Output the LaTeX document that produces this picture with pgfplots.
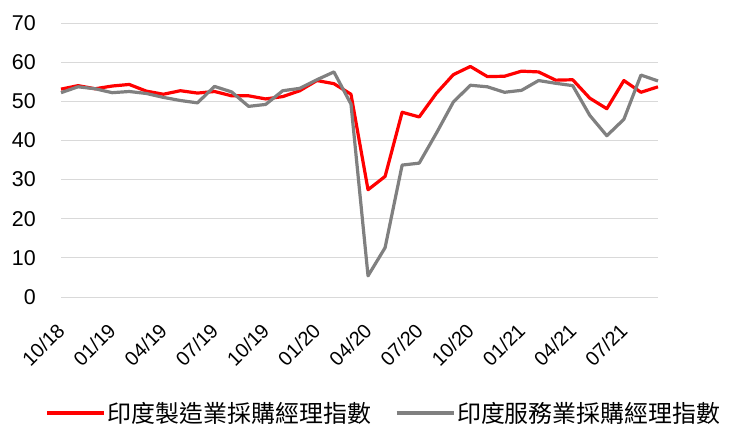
\documentclass[border=0pt]{standalone}
\usepackage{fontspec}
\setmainfont{Liberation Sans}
\newfontfamily\cjk{Noto Sans CJK TC}
\usepackage{pgfplots}
\pgfplotsset{compat=1.18}
\usepackage{pgfplotstable}
\definecolor{pmired}{RGB}{255,0,0}
\definecolor{pmigray}{RGB}{128,128,128}
\definecolor{gridgray}{RGB}{217,217,217}

\pgfplotstableread{
idx mfg svc
0 53.1 52.2
1 54.0 53.7
2 53.2 53.2
3 53.9 52.2
4 54.3 52.5
5 52.6 52.0
6 51.8 51.0
7 52.7 50.2
8 52.1 49.6
9 52.5 53.8
10 51.4 52.4
11 51.4 48.7
12 50.6 49.2
13 51.2 52.7
14 52.7 53.3
15 55.3 55.5
16 54.5 57.5
17 51.8 49.3
18 27.4 5.4
19 30.8 12.6
20 47.2 33.7
21 46.0 34.2
22 52.0 41.8
23 56.8 49.8
24 58.9 54.1
25 56.3 53.7
26 56.4 52.3
27 57.7 52.8
28 57.5 55.3
29 55.4 54.6
30 55.5 54.0
31 50.8 46.4
32 48.1 41.2
33 55.3 45.4
34 52.3 56.7
35 53.7 55.2
}\pmidata

\begin{document}
\begin{tikzpicture}
\path[use as bounding box] (0,0) rectangle (736bp,440bp);
\begin{axis}[
  at={(61bp,143bp)}, anchor=south west,
  scale only axis, width=597bp, height=274bp,
  xmin=0, xmax=35, ymin=0, ymax=70,
  ytick={0,10,...,70},
  xtick={0,3,...,33},
  xticklabels={10/18,01/19,04/19,07/19,10/19,01/20,04/20,07/20,10/20,01/21,04/21,07/21},
  axis line style={draw=none},
  major tick length=0pt,
  ymajorgrids,
  grid style={color=gridgray, line width=1bp},
  /pgf/number format/assume math mode=true,
  yticklabel style={font=\fontsize{21.5}{24}\selectfont, anchor=east, inner sep=0pt, xshift=-25bp},
  xticklabel style={font=\fontsize{20}{24}\selectfont, yshift=-30bp, rotate=45, anchor=east, inner sep=0pt},
  clip=false,
  legend columns=2,
  legend style={at={(0.541,-0.423)}, anchor=center, draw=none, fill=none,
    font=\cjk\fontsize{24}{28}\selectfont,
    /tikz/every even column/.append style={column sep=22bp},
    nodes={inner sep=2bp}},
  legend image code/.code={\draw[#1] (0bp,0bp) -- (57bp,0bp);},
]
\addplot[color=pmired, line width=3.2bp, line join=round] table[x=idx, y=mfg] {\pmidata};
\addlegendentry{印度製造業採購經理指數}
\addplot[color=pmigray, line width=3.2bp, line join=round] table[x=idx, y=svc] {\pmidata};
\addlegendentry{印度服務業採購經理指數}
\end{axis}
\end{tikzpicture}
\end{document}
